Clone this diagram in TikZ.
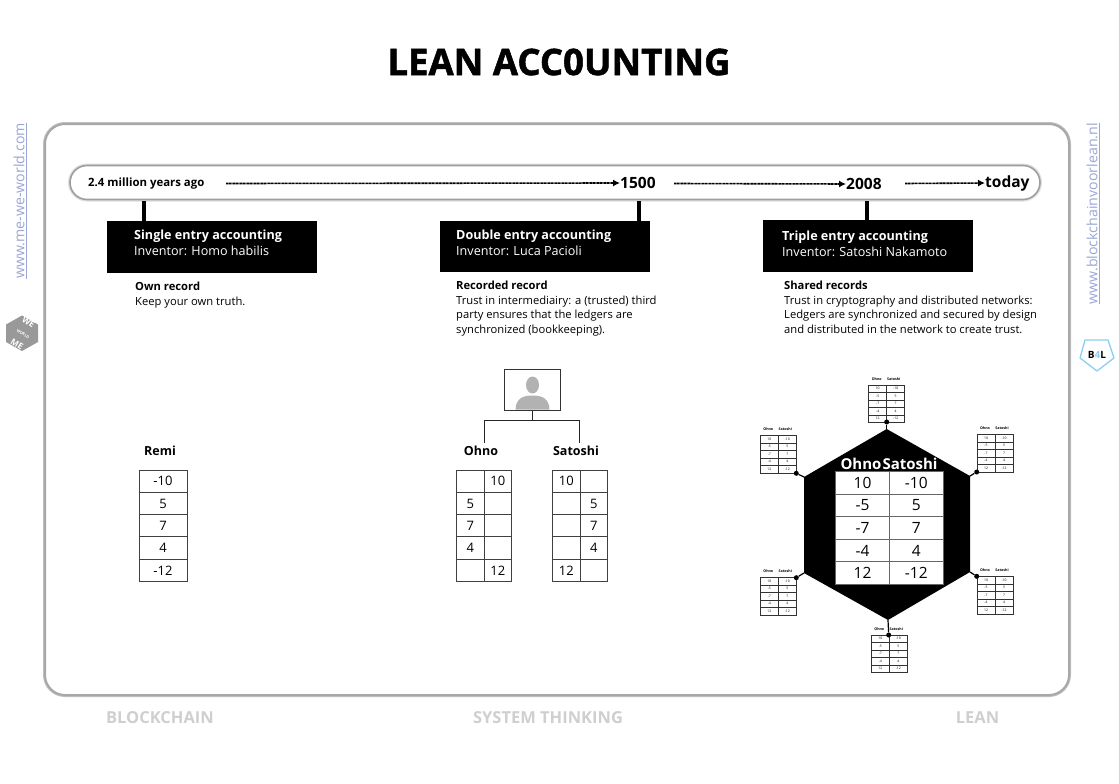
\documentclass[tikz,border=0pt]{standalone}
\usepackage{fontspec}
\setmainfont{Open Sans}
\newfontfamily\titlefont[BoldFeatures={FakeBold=1.4}]{Open Sans}
\usetikzlibrary{arrows.meta}
\definecolor{linkblue}{HTML}{9AA6D6}
\definecolor{panelgray}{HTML}{A8A8A8}
\definecolor{footgray}{HTML}{CFCFCF}
\definecolor{personfill}{HTML}{B2B2B2}
\definecolor{bfourl}{HTML}{8CCFEF}
\newcommand{\ledger}[7]{%
  \foreach \a/\b [count=\r from 0] in {#7} {
    \node[#6,minimum width=#4 pt,minimum height=#5 pt] (#1-\r a) at (#2+0.5*#4,#3+#5*\r+0.5*#5) {\a};
    \node[#6,minimum width=#4 pt,minimum height=#5 pt] (#1-\r b) at (#2+1.5*#4,#3+#5*\r+0.5*#5) {\b};
  }
}
\newcommand{\minitable}[3]{%
  \node[minihead] (#1-ohno) at (#2+8,#3-6) {Ohno};
  \node[minihead] (#1-satoshi) at (#2+25,#3-6) {Satoshi};
  \ledger{#1}{#2}{#3}{18}{7.5}{minicell}{10/-10,-5/5,-7/7,-4/4,12/-12}
}
\begin{document}
\begin{tikzpicture}[
    x=1pt,y=-1pt,
    >={Latex[length=7pt,width=7pt]},
    cell/.style={draw=black!75,line width=0.9pt,inner sep=0pt,outer sep=0pt,font=\fontsize{13}{13}\selectfont},
    maincell/.style={draw=black!60,line width=1pt,fill=white,inner sep=0pt,outer sep=0pt,font=\fontsize{15.5}{15.5}\selectfont},
    minicell/.style={draw=black!80,line width=0.6pt,fill=white,inner sep=0pt,outer sep=0pt,font=\fontsize{3.4}{3.4}\selectfont},
    minihead/.style={inner sep=0pt,font=\fontsize{3.6}{3.6}\selectfont\bfseries},
    head/.style={inner sep=0pt,font=\fontsize{12.5}{12.5}\selectfont\bfseries},
    era/.style={fill=black,text=white,minimum width=209.5pt,minimum height=51.5pt,inner sep=0pt},
    eratext/.style={text=white,anchor=west,inner sep=0pt,align=left,font=\fontsize{12.6}{16}\selectfont},
    desc/.style={anchor=north west,inner sep=0pt,align=left,font=\fontsize{11.2}{14.5}\selectfont},
    year/.style={inner sep=0pt,font=\fontsize{15.5}{15.5}\selectfont\bfseries},
    foot/.style={inner sep=0pt,text=footgray,font=\fontsize{16.5}{16.5}\selectfont\bfseries},
    link/.style={inner sep=0pt,text=linkblue,rotate=90,font=\fontsize{14.2}{14.2}\selectfont},
    stub/.style={line width=3.4pt},
    timeline/.style={->,line width=1.6pt,dash pattern=on 1pt off 0.4pt},
    dotnode/.style={circle,fill=black,minimum size=5pt,inner sep=0pt},
    spoke/.style={line width=1.2pt},
  ]
  \useasboundingbox (0,0) rectangle (1119,784);
  % title
  \node[inner sep=0pt,font=\fontsize{36.5}{36.5}\titlefont\bfseries] (title) at (559,62) {LEAN ACC0UNTING};
  % panel
  \draw[black!25,line width=4pt,rounded corners=20pt] (45,124) rectangle (1069,695);
  \draw[panelgray,line width=2pt,fill=white,rounded corners=20pt] (45,124) rectangle (1069,695);
  % time bar
  \draw[black!12,line width=4pt,rounded corners=17pt] (70,165.5) rectangle (1040,199.5);
  \draw[black!38,line width=1.6pt,fill=white,rounded corners=17pt] (70,165.5) rectangle (1040,199.5);
  \node[inner sep=0pt,anchor=west,font=\fontsize{11.4}{11.4}\selectfont\bfseries] (ago) at (88,183.5) {2.4 million years ago};
  \node[year,anchor=west] (ya) at (620,183) {1500};
  \node[year,anchor=west] (yb) at (846,184) {2008};
  \node[year,anchor=west] (yc) at (985,183) {today};
  \coordinate (sa) at (226,183.5);
  \coordinate (sb) at (674,183.5);
  \coordinate (sc) at (905,183.5);
  \draw[timeline] (sa) -- (ya.west);
  \draw[timeline] (sb) -- (yb.west);
  \draw[timeline] (sc) -- (yc.west);
  % eras
  \node[era] (single) at (211.75,246.75) {};
  \node[era] (double) at (545,246.5) {};
  \node[era] (triple) at (867.75,246) {};
  \coordinate (ta) at (144,201);
  \coordinate (tb) at (639,201);
  \coordinate (tc) at (867,201);
  \draw[stub] (ta) -- (ta |- single.north);
  \draw[stub] (tb) -- (tb |- double.north);
  \draw[stub] (tc) -- (tc |- triple.north);
  \node[eratext] (singletxt) at (134,243) {\textbf{Single entry accounting}\\Inventor: Homo habilis};
  \node[eratext] (doubletxt) at (456,243) {\textbf{Double entry accounting}\\Inventor: Luca Pacioli};
  \node[eratext] (tripletxt) at (782,244) {\textbf{Triple entry accounting}\\Inventor: Satoshi Nakamoto};
  \node[desc] (own) at (135,282) {\textbf{Own record}\\Keep your own truth.};
  \node[desc] (rec) at (456,281) {\textbf{Recorded record}\\Trust in intermediairy: a (trusted) third\\party ensures that the ledgers are\\synchronized (bookkeeping).};
  \node[desc] (sha) at (784,281) {\textbf{Shared records}\\Trust in cryptography and distributed networks:\\Ledgers are synchronized and secured by design\\and distributed in the network to create trust.};
  % remi
  \node[head] (remi) at (160,451) {Remi};
  \foreach \v [count=\r from 0] in {-10,5,7,4,-12} {
    \node[cell,minimum width=48pt,minimum height=22.3pt] (remi-\r) at (163,470+22.3*\r+11.15) {\v};
  }
  % intermediary
  \node[draw=black!80,line width=1pt,minimum width=56.5pt,minimum height=41pt,inner sep=0pt] (person) at (532.5,389.5) {};
  \fill[personfill] (526,385) arc[start angle=180,end angle=-180,x radius=6.5,y radius=8.5];
  \fill[personfill] (515.5,409.5) .. controls (516,399) and (522,395.5) .. (532.5,395.5) .. controls (543,395.5) and (549,399) .. (549.5,409.5) -- cycle;
  \node[head] (ohno) at (481,451) {Ohno};
  \node[head] (satoshi) at (576,451) {Satoshi};
  \coordinate (fork) at (532.5,420);
  \coordinate (ohnoin) at (484.5,443);
  \coordinate (satoshiin) at (579.5,443);
  \draw[line width=0.9pt,black!85] (person.south) -- (fork);
  \draw[line width=0.9pt,black!85] (ohnoin) |- (satoshiin |- fork) -- (satoshiin);
  \ledger{oh}{456.5}{470}{27.5}{22.3}{cell}{/10,5/,7/,4/,/12}
  \ledger{sa}{552.5}{470}{27.5}{22.3}{cell}{10/,/5,/7,/4,12/}
  % network
  \fill (886.7,429) coordinate (hexa) -- (970,476) coordinate (hexb) -- (970,572) coordinate (hexc) -- (888,620) coordinate (hexd) -- (804,573) coordinate (hexe) -- (804,477) coordinate (hexf) -- cycle;
  \node[inner sep=0pt,text=white,font=\fontsize{15}{15}\selectfont\bfseries] (mainohno) at (861,464) {Ohno};
  \node[inner sep=0pt,text=white,font=\fontsize{15}{15}\selectfont\bfseries] (mainsatoshi) at (910,464) {Satoshi};
  \ledger{main}{835.7}{471.7}{53.7}{22.5}{maincell}{10/-10,-5/5,-7/7,-4/4,12/-12}
  \minitable{top}{868.7}{385}
  \minitable{upl}{760.3}{435.5}
  \minitable{upr}{977}{434.5}
  \minitable{lol}{760.3}{577.5}
  \minitable{lor}{977}{576.5}
  \minitable{bot}{871.3}{635}
  \node[dotnode] (da) at (886.7,422) {};
  \node[dotnode] (db) at (976.7,472) {};
  \node[dotnode] (dc) at (976.7,576.3) {};
  \node[dotnode] (dd) at (888.7,635) {};
  \node[dotnode] (de) at (796.3,577.7) {};
  \node[dotnode] (df) at (796.3,473.3) {};
  \draw[spoke] (da) -- (hexa);
  \draw[spoke] (db) -- (hexb);
  \draw[spoke] (dc) -- (hexc);
  \draw[spoke] (dd) -- (hexd);
  \draw[spoke] (de) -- (hexe);
  \draw[spoke] (df) -- (hexf);
  % footer
  \node[foot] (fa) at (160,718) {BLOCKCHAIN};
  \node[foot] (fb) at (548,718) {SYSTEM THINKING};
  \node[foot] (fc) at (977.5,718) {LEAN};
  % side links
  \node[link,anchor=east] (lnka) at (20,123) {\underline{www.me-we-world.com}};
  \node[link,anchor=east] (lnkb) at (1093,123) {\underline{www.blockchainvoorlean.nl}};
  % logos
  \fill[black!40] (22,315.5) -- (38,324.5) -- (38,342) -- (22,351) -- (6,342) -- (6,324.5) -- cycle;
  \node[inner sep=0pt,text=white,rotate=-32,font=\fontsize{8.5}{8.5}\selectfont\bfseries] (we) at (28.5,322.5) {WE};
  \node[inner sep=0pt,text=white,rotate=-32,font=\fontsize{3.8}{3.8}\selectfont\bfseries] (world) at (23,334) {WORLD};
  \node[inner sep=0pt,text=white,rotate=-32,font=\fontsize{8.5}{8.5}\selectfont\bfseries] (me) at (17,344) {ME};
  \draw[bfourl,line width=1.3pt,fill=white,line join=round] (1085,340) -- (1108,340) -- (1114,358) -- (1097,371) -- (1080,358) -- cycle;
  \node[inner sep=0pt,font=\fontsize{10}{10}\selectfont\bfseries] (bfl) at (1097,355) {B\textcolor{bfourl}{4}L};
\end{tikzpicture}
\end{document}
